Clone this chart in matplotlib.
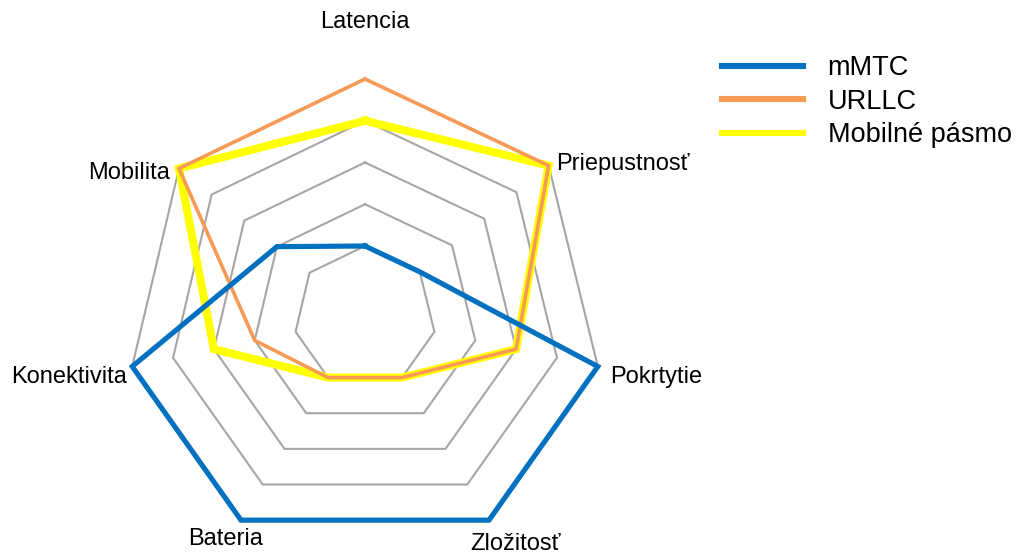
import numpy as np
import matplotlib.pyplot as plt

plt.rcParams['font.family'] = ['Liberation Sans', 'DejaVu Sans']

# axes of the radar, clockwise from the top
categories = ['Latencia', 'Priepustnosť', 'Pokrtytie', 'Zložitosť', 'Bateria', 'Konektivita', 'Mobilita']

# series values (grid rings at 1..5)
mmtc = [1, 1, 5, 5, 5, 5, 2]
urllc = [5, 5, 3, 1, 1, 2, 5]
mobilne = [4, 5, 3, 1, 1, 3, 5]
series_names = ['mMTC', 'URLLC', 'Mobilné pásmo']

ring_levels = [1, 2, 3, 4, 5]

# the original spokes are not quite evenly spaced
angles_deg = [0, 50.5, 102, 148.6, 211.4, 258, 308.6]

# label placement: pixel offset from the outer vertex + alignment
label_pos = [
    ((0, 51), 'center'),
    ((7, -4), 'left'),
    ((12, -17), 'left'),
    ((26, -30), 'center'),
    ((-15, -25), 'center'),
    ((-5, -17), 'right'),
    ((-9, -10), 'right'),
]


def closed(vals):
    return list(vals) + [vals[0]]


fig = plt.figure(figsize=(10.22, 5.57), dpi=100)
ax = fig.add_axes([127 / 1022, 2 / 557, 476 / 1022, 476 / 557], projection='polar')
ax.set_theta_offset(np.pi / 2)
ax.set_theta_direction(-1)
ax.set_ylim(-0.7, 5)
ax.set_xticks([])
ax.set_yticks([])
ax.grid(False)
ax.spines['polar'].set_visible(False)
ax.patch.set_visible(False)

theta = np.deg2rad(closed(angles_deg))

# grid rings
for lvl in ring_levels:
    ax.plot(theta, [lvl] * len(theta), color='#A6A6A6', lw=1.5,
            solid_joinstyle='miter', zorder=1)

l_mob, = ax.plot(theta, closed(mobilne), color='#FFFF00', lw=5.8,
                 solid_joinstyle='miter', zorder=2, clip_on=False)
l_url, = ax.plot(theta, closed(urllc), color='#F79A55', lw=2.6,
                 solid_joinstyle='miter', zorder=3, clip_on=False)
l_mmtc, = ax.plot(theta, closed(mmtc), color='#0070C0', lw=3.7,
                  solid_joinstyle='miter', zorder=4, clip_on=False)

for cat, ang, (off, ha) in zip(categories, angles_deg, label_pos):
    ax.annotate(cat, xy=(np.deg2rad(ang), ring_levels[-1]), xytext=off,
                textcoords='offset pixels', ha=ha, va='baseline',
                fontsize=17, color='black', annotation_clip=False)

leg = fig.legend([l_mmtc, l_url, l_mob], series_names,
                 loc='upper left', bbox_to_anchor=(722 / 1022, 1 - 55 / 557),
                 frameon=False, fontsize=19.5, borderpad=0, borderaxespad=0,
                 handlelength=3.0, handletextpad=0.9, labelspacing=0.28)
for h in leg.get_lines():
    h.set_linewidth(4.4)

fig.savefig('out.png', dpi=100)
